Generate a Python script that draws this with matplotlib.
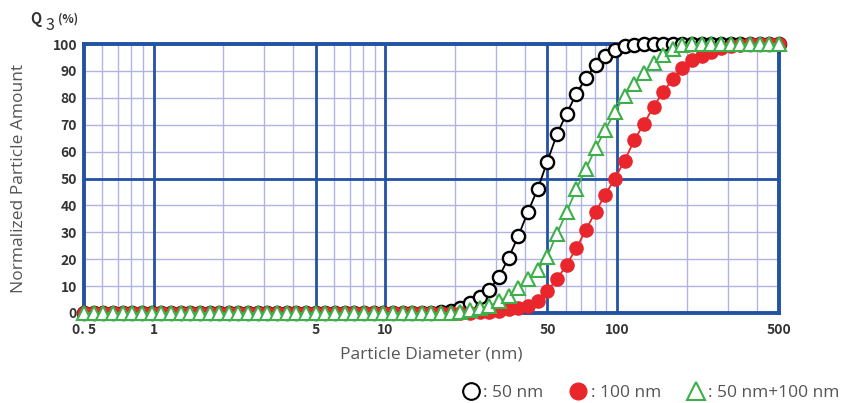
import matplotlib
matplotlib.use("Agg")
import matplotlib.pyplot as plt
from matplotlib.lines import Line2D

plt.rcParams["font.family"] = ["Open Sans", "DejaVu Sans"]

# particle size channels (nm)
sizes = [
    0.5, 0.550, 0.606, 0.667, 0.734, 0.808, 0.889, 0.979,
    1.077, 1.186, 1.305, 1.437, 1.581, 1.741, 1.916, 2.109,
    2.321, 2.555, 2.812, 3.095, 3.407, 3.750, 4.127, 4.543,
    5.0, 5.503, 6.057, 6.667, 7.338, 8.077, 8.891, 9.786,
    10.77, 11.86, 13.05, 14.37, 15.81, 17.41, 19.16, 21.09,
    23.21, 25.55, 28.12, 30.95, 34.07, 37.50, 41.27, 45.43,
    50.0, 55.03, 60.57, 66.67, 73.38, 80.77, 88.91, 97.86,
    107.7, 118.6, 130.5, 143.7, 158.1, 174.1, 191.6, 210.9,
    232.1, 255.5, 281.2, 309.5, 340.7, 375.0, 412.7, 454.3,
    500.0,
]

# cumulative Q3 (%)
q3_50nm = [
    0, 0, 0, 0, 0, 0, 0, 0, 0, 0, 0, 0, 0, 0, 0, 0,
    0, 0, 0, 0, 0, 0, 0, 0, 0, 0, 0, 0, 0, 0, 0, 0,
    0, 0, 0, 0, 0, 0.3, 0.8, 2.0, 3.8, 5.8, 8.6, 13.5,
    20.6, 28.7, 37.7, 46.1, 56.3, 66.5, 74.1, 81.5, 87.3, 92.3,
    95.4, 97.8, 99.2, 99.7, 99.9, 100, 100, 100, 100, 100,
    100, 100, 100, 100, 100, 100, 100, 100, 100,
]
q3_100nm = [
    0, 0, 0, 0, 0, 0, 0, 0, 0, 0, 0, 0, 0, 0, 0, 0,
    0, 0, 0, 0, 0, 0, 0, 0, 0, 0, 0, 0, 0, 0, 0, 0,
    0, 0, 0, 0, 0, 0, 0, 0, 0, 0.2, 0.5, 0.9, 1.4, 1.7,
    2.6, 4.6, 8.3, 12.5, 18.0, 24.0, 31.0, 37.6, 44.0, 50.0,
    56.6, 64.2, 70.3, 76.7, 82.2, 87.0, 91.2, 93.9, 95.6, 97.2,
    98.4, 99.2, 99.7, 99.9, 100, 100, 100,
]
q3_mix = [
    0, 0, 0, 0, 0, 0, 0, 0, 0, 0, 0, 0, 0, 0, 0, 0,
    0, 0, 0, 0, 0, 0, 0, 0, 0, 0, 0, 0, 0, 0, 0, 0,
    0, 0, 0, 0, 0, 0, 0, 0.3, 1.0, 1.8, 2.7, 4.3, 6.4, 9.3,
    12.5, 16.0, 21.0, 29.5, 37.5, 46.0, 53.6, 61.2, 68.2, 74.6,
    80.8, 85.0, 89.2, 92.9, 95.9, 98.3, 99.6, 100, 100, 100,
    100, 100, 100, 100, 100, 100, 100,
]

x_ticks = [0.5, 1, 5, 10, 50, 100, 500]
x_ticklabels = ["0. 5", "1", "5", "10", "50", "100", "500"]
x_thick = [1, 5, 10, 50, 100]
x_minor = [0.6, 0.7, 0.8, 0.9, 2, 3, 4, 6, 7, 8, 9, 20, 30, 40,
           60, 70, 80, 90, 200, 300, 400]
y_ticks = [0, 10, 20, 30, 40, 50, 60, 70, 80, 90, 100]

blue = "#2352a4"
light = "#b0b4e2"
red = "#e8262b"
green = "#3db049"
tick_font = ["Noto Sans CJK JP", "DejaVu Sans"]

fig = plt.figure(figsize=(8.49, 4.03), dpi=100)
ax = fig.add_axes([84 / 849, 1 - 313 / 403, 695 / 849, 269 / 403])

ax.set_xscale("log")
ax.set_xlim(0.5, 500)
ax.set_ylim(0, 100)

# grid: thin lines everywhere, thick at main decades and 50%
for v in x_minor:
    ax.axvline(v, color=light, lw=1.0, zorder=1)
for v in y_ticks:
    ax.axhline(v, color=light, lw=1.0, zorder=1)
for v in x_thick:
    ax.axvline(v, color=blue, lw=2.0, zorder=1.5)
ax.axhline(50, color=blue, lw=2.0, zorder=1.5)

for s in ax.spines.values():
    s.set_color(blue)
    s.set_linewidth(2.8)

ax.plot(sizes, q3_50nm, color="black", lw=1.3, marker="o", ms=9.5,
        mfc="white", mec="black", mew=1.7, clip_on=False, zorder=3)
ax.plot(sizes, q3_100nm, color=red, lw=1.3, marker="o", ms=9.5,
        mfc=red, mec=red, mew=1.0, clip_on=False, zorder=4)
ax.plot(sizes, q3_mix, color=green, lw=1.3, marker="^", ms=10.5,
        mfc="white", mec=green, mew=1.5, clip_on=False, zorder=5)

ax.set_xticks(x_ticks)
ax.set_xticklabels(x_ticklabels)
ax.set_xticks([], minor=True)
ax.set_yticks(y_ticks)
ax.tick_params(length=0, labelcolor="#333333")
ax.tick_params(axis="x", pad=7)
ax.tick_params(axis="y", pad=5)
for lab in ax.get_xticklabels() + ax.get_yticklabels():
    lab.set_family(tick_font)
    lab.set_fontweight("bold")
    lab.set_fontsize(10)

ax.set_xlabel("Particle Diameter (nm)", fontsize=12.5, color="#555555")
ax.set_ylabel("Normalized Particle Amount", fontsize=12.5, color="#555555")
ax.xaxis.set_label_coords(0.5, -0.123)
ax.yaxis.set_label_coords(-0.082, 0.5)

# Q3 (%) label
fig.text(30 / 849, 1 - 19 / 403, "Q", fontsize=10.5, fontweight="bold",
         family=tick_font, color="#333333", va="center")
fig.text(45 / 849, 1 - 26 / 403, "3", fontsize=11.5, family=tick_font,
         color="#333333", va="center")
fig.text(58 / 849, 1 - 19 / 403, "(%)", fontsize=8.5, fontweight="bold",
         family=tick_font, color="#333333", va="center")

handles = [
    Line2D([], [], ls="none", marker="o", ms=12, mfc="white", mec="black", mew=1.5),
    Line2D([], [], ls="none", marker="o", ms=12, mfc=red, mec=red),
    Line2D([], [], ls="none", marker="^", ms=13, mfc="white", mec=green, mew=1.5),
]
labels = [": 50 nm", ": 100 nm", ": 50 nm+100 nm"]
leg = fig.legend(handles, labels, loc="center right",
                 bbox_to_anchor=(846 / 849, 1 - 393 / 403), ncol=3,
                 frameon=False, fontsize=12.5, handlelength=1.0,
                 handletextpad=0.2, columnspacing=1.5, borderaxespad=0)
for t in leg.get_texts():
    t.set_color("#555555")

fig.savefig("out.png", dpi=100, facecolor="white")
